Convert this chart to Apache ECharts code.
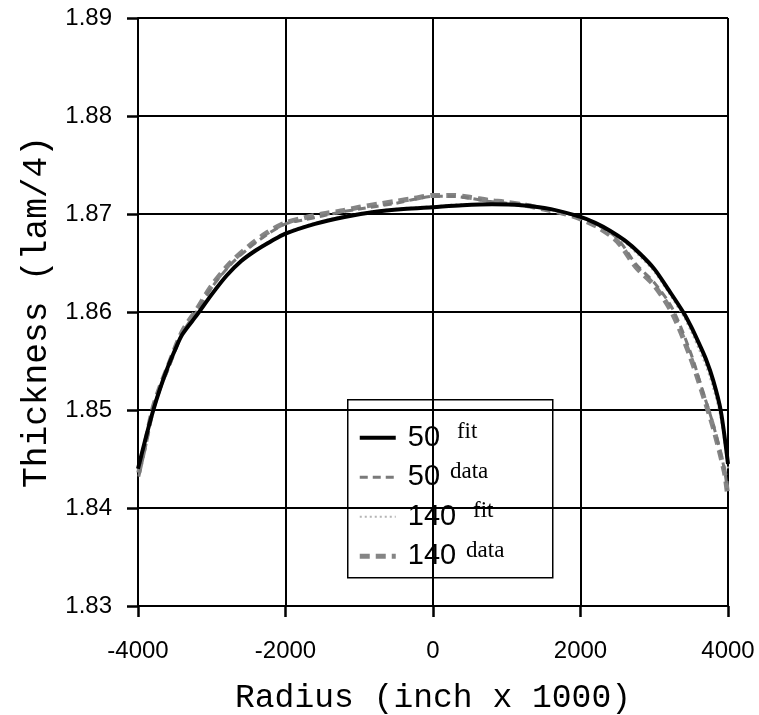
<!DOCTYPE html>
<html><head><meta charset="utf-8">
<script src="https://cdn.jsdelivr.net/npm/echarts@6/dist/echarts.min.js"></script>
<style>html,body{margin:0;padding:0;background:#fff}#c{width:759px;height:715px}</style>
</head><body><div id="c"></div>
<script>
const xTicks = [-4000, -2000, 0, 2000, 4000];
const yTicks = [1.83, 1.84, 1.85, 1.86, 1.87, 1.88, 1.89];

const fitX = [-4000,-3900,-3800,-3700,-3600,-3500,-3400,-3200,-3000,-2800,-2600,-2400,-2200,-2000,-1600,-1200,-800,-400,0,400,800,1200,1600,2000,2200,2400,2600,2800,3000,3200,3400,3500,3600,3700,3800,3900,4000];
const fit50 = [1.8440,1.8470,1.8498,1.8522,1.8543,1.8561,1.8577,1.8597,1.8618,1.8637,1.8652,1.8663,1.8672,1.8680,1.8690,1.8697,1.8702,1.8705,1.8707,1.8709,1.8710,1.8709,1.8705,1.8697,1.8691,1.8683,1.8673,1.8660,1.8644,1.8622,1.8599,1.8585,1.8569,1.8552,1.8530,1.8500,1.8445];
const fit140 = [1.8442,1.8472,1.8500,1.8523,1.8544,1.8562,1.8578,1.8598,1.8619,1.8638,1.8653,1.8664,1.8673,1.8681,1.8691,1.8698,1.8703,1.8706,1.8708,1.8710,1.8710,1.8708,1.8704,1.8696,1.8690,1.8681,1.8671,1.8657,1.8641,1.8619,1.8595,1.8580,1.8563,1.8545,1.8522,1.8492,1.8440];

const data50X = [-3990,-3900,-3800,-3700,-3600,-3400,-3200,-3000,-2750,-2500,-2250,-2000,-1750,-1500,-1250,-1000,-750,-500,-250,0,250,500,750,1000,1250,1500,1750,2000,2250,2500,2750,3000,3250,3500,3650,3800,3950,3990];
const data50 = [1.8432,1.8462,1.8499,1.8522,1.8540,1.8578,1.8601,1.8625,1.8648,1.8665,1.8679,1.8690,1.8694,1.8698,1.8702,1.8705,1.8708,1.8711,1.8715,1.8718,1.8718,1.8716,1.8713,1.8711,1.8710,1.8706,1.8702,1.8696,1.8688,1.8675,1.8649,1.8630,1.8603,1.8557,1.8521,1.8485,1.8440,1.8418];
const data140X = [-3990,-3900,-3800,-3700,-3600,-3400,-3200,-3000,-2750,-2500,-2250,-2000,-1750,-1500,-1250,-1000,-750,-500,-250,0,250,500,750,1000,1250,1500,1750,2000,2250,2500,2750,3000,3250,3500,3650,3800,3950,3990];
const data140 = [1.8436,1.8466,1.8501,1.8524,1.8543,1.8580,1.8603,1.8627,1.8650,1.8667,1.8681,1.8691,1.8696,1.8700,1.8703,1.8707,1.8710,1.8713,1.8716,1.8719,1.8719,1.8717,1.8714,1.8712,1.8709,1.8705,1.8701,1.8695,1.8686,1.8672,1.8646,1.8627,1.8598,1.8552,1.8518,1.8482,1.8437,1.8416];

const legendItems = [
  {num: '50', sup: 'fit'},
  {num: '50', sup: 'data'},
  {num: '140', sup: 'fit'},
  {num: '140', sup: 'data'}
];

function pairs(xs, ys){ return xs.map((x,i)=>[x, ys[i]]); }

const chart = echarts.init(document.getElementById('c'), null, {renderer:'canvas'});
const styles = [
  {color:'#000000', width:4, type:'solid'},
  {color:'#7a7a7a', width:3, type:[8,5]},
  {color:'#b4b4b4', width:2, type:[2,3]},
  {color:'#858585', width:5, type:[10,6]}
];

const legendX = 347, legendY = 399, rowH = 39.5;
const legendChildren = [{
  type:'rect', shape:{x:0, y:0, width:205, height:178},
  style:{fill:'#fff', stroke:'#000', lineWidth:1.5}
}];
legendItems.forEach((it, i) => {
  const cy = 38 + i*rowH;
  const st = styles[i];
  legendChildren.push({
    type:'line', shape:{x1:12, y1:cy, x2:48, y2:cy},
    style:{stroke:st.color, lineWidth:st.width, lineDash: st.type === 'solid' ? null : st.type}
  });
  legendChildren.push({
    type:'text', x:60, y:cy,
    style:{text:it.num, font:'29px "Liberation Sans", Arial, sans-serif', fill:'#000', textVerticalAlign:'middle'}
  });
  const numW = it.num.length * 16.1;
  legendChildren.push({
    type:'text', x:60 + numW + (it.sup === 'fit' ? 17 : 10), y:cy + 6,
    style:{text:it.sup, font:'23px "Liberation Serif", "Times New Roman", serif', fill:'#000', textVerticalAlign:'bottom'}
  });
});

const seriesDefs = [
  {name:'140 data', data:pairs(data140X, data140), st:styles[3]},
  {name:'50 data', data:pairs(data50X, data50), st:styles[1]},
  {name:'140 fit', data:pairs(fitX, fit140), st:styles[2]},
  {name:'50 fit', data:pairs(fitX, fit50), st:styles[0]}
];

const tickStyle = {show:true, inside:false, length:11, lineStyle:{color:'#000', width:2.5}};

chart.setOption({
  animation:false,
  backgroundColor:'#fff',
  grid:{left:138, right:31, top:18, bottom:109, containLabel:false, outerBoundsMode:'none'},
  xAxis:{
    type:'value', min:-4000, max:4000, interval:2000,
    axisLine:{show:true, onZero:false, lineStyle:{color:'#000', width:2}},
    axisTick:tickStyle,
    splitLine:{show:true, lineStyle:{color:'#000', width:2}},
    axisLabel:{color:'#000', fontSize:24, fontFamily:'"Liberation Sans", Arial, sans-serif', margin:33,
      formatter: v => xTicks.includes(v) ? String(v) : ''},
    name:'Radius (inch x 1000)', nameLocation:'middle', nameGap:76,
    nameTextStyle:{color:'#000', fontSize:33, fontFamily:'"Liberation Mono", "Courier New", monospace'}
  },
  yAxis:{
    type:'value', min:1.83, max:1.89, interval:0.01,
    axisLine:{show:true, onZero:false, lineStyle:{color:'#000', width:2}},
    axisTick:tickStyle,
    splitLine:{show:true, lineStyle:{color:'#000', width:2}},
    axisLabel:{color:'#000', fontSize:24, fontFamily:'"Liberation Sans", Arial, sans-serif', margin:26,
      formatter: v => { const t = yTicks.find(y => Math.abs(y - v) < 1e-6); return t !== undefined ? t.toFixed(2) : ''; }},
    name:'Thickness (lam/4)', nameLocation:'middle', nameGap:72, nameRotate:90,
    nameTextStyle:{color:'#000', fontSize:34.5, fontFamily:'"Liberation Mono", "Courier New", monospace'}
  },
  series: seriesDefs.map(s => ({
    type:'line', name:s.name, data:s.data, smooth:0.3, showSymbol:false, symbol:'none',
    lineStyle:{color:s.st.color, width:s.st.width, type:s.st.type},
    z: 3
  })),
  graphic:[{type:'group', left:legendX, top:legendY, z:100, children:legendChildren}]
});
</script></body></html>
